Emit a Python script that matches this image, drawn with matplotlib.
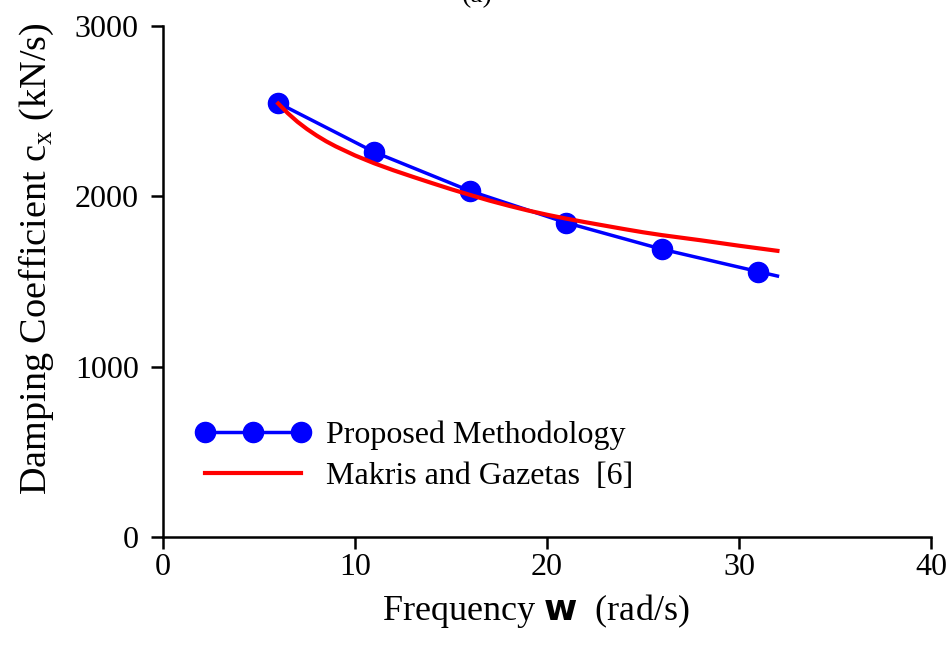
import numpy as np
import matplotlib
matplotlib.use("Agg")
import matplotlib.pyplot as plt
from matplotlib.lines import Line2D
from matplotlib.legend_handler import HandlerLine2D

plt.rcParams['font.family'] = ['Liberation Serif', 'DejaVu Serif']
plt.rcParams['mathtext.fontset'] = 'custom'
plt.rcParams['mathtext.rm'] = 'Liberation Serif'
plt.rcParams['mathtext.bf'] = 'DejaVu Sans:bold'

# proposed methodology (markers at the computed frequencies, line runs on to 32)
freq = [6, 11, 16, 21, 26, 31, 32]
damp = [2548, 2260, 2031, 1845, 1689, 1558, 1532]
n_marked = 6

# Makris and Gazetas [6]
mg_freq = [6, 6.5, 7, 7.5, 8, 8.5, 9, 10, 11, 12, 13, 14, 15, 16, 17, 18,
           19, 20, 21, 22, 23, 24, 25, 26, 27, 28, 29, 30, 31, 32]
mg_damp = [2545, 2488, 2438, 2395, 2357, 2323, 2293, 2240, 2194, 2153,
           2115, 2078, 2042, 2008, 1975, 1945, 1917, 1892, 1869, 1848,
           1828, 1808, 1789, 1772, 1757, 1742, 1726, 1710, 1695, 1680]

xticks = [0, 10, 20, 30, 40]
yticks = [0, 1000, 2000, 3000]

fig = plt.figure(figsize=(9.52, 6.55), dpi=100)
ax = fig.add_axes([0.1712, 0.1802, 0.8068, 0.7801])

ax.plot(freq, damp, color='#0000ff', lw=2.5, marker='o', ms=14.5,
        markevery=list(range(n_marked)), label='Proposed Methodology')
ax.plot(mg_freq, mg_damp, color='#ff0000', lw=3,
        label='Makris and Gazetas  [6]')

ax.set_xlim(0, 40)
ax.set_ylim(0, 3000)
ax.set_xticks(xticks)
ax.set_yticks(yticks)

for s in ['top', 'right']:
    ax.spines[s].set_visible(False)
for s in ['left', 'bottom']:
    ax.spines[s].set_linewidth(1.8)
ax.tick_params(direction='out', length=8.5, width=1.8, labelsize=23)
ax.tick_params(axis='x', pad=3)
ax.tick_params(axis='y', pad=9)

ax.set_xlabel(r"Frequency $\mathbf{w}$  (rad/s)", fontsize=26)
ax.set_ylabel(r"Damping Coefficient c$_\mathrm{x}$ (kN/s)", fontsize=27.5)
ax.xaxis.set_label_coords(0.486, -0.107)
ax.yaxis.set_label_coords(-0.139, 0.545)

fig.text(477 / 952, 0.996, "(a)", fontsize=20, ha='center', va='baseline')

ax.legend(loc='upper left', bbox_to_anchor=(0.055, 0.228), frameon=False,
          fontsize=23, numpoints=3, handlelength=3.0, handletextpad=0.78,
          labelspacing=0.37, borderaxespad=0, borderpad=0,
          handler_map={Line2D: HandlerLine2D(marker_pad=0)})

fig.savefig("out.png", dpi=100)
